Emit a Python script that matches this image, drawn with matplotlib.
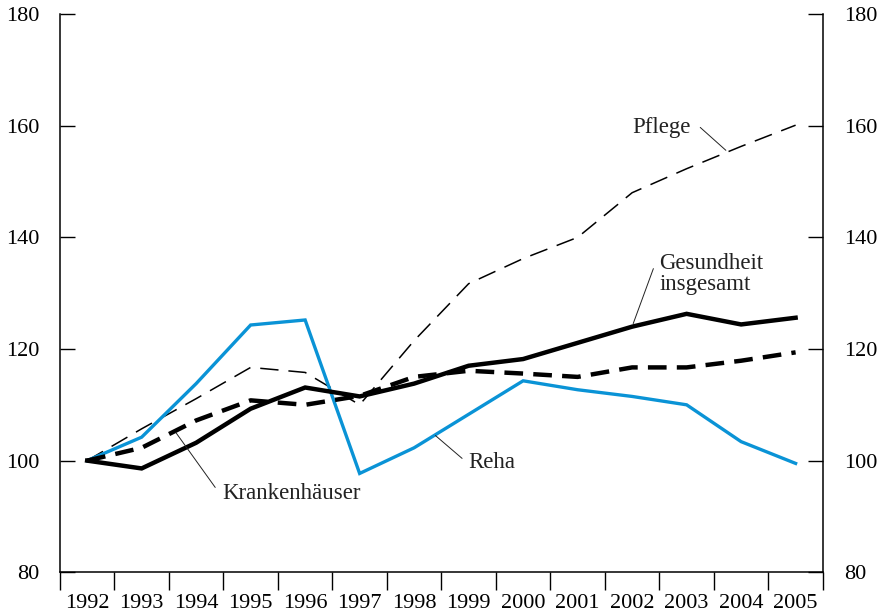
import matplotlib
matplotlib.use('Agg')
import matplotlib.pyplot as plt
import numpy as np

plt.rcParams['font.family'] = 'Liberation Serif'

years = list(range(1992, 2006))
reha = [100, 104.2, 113.8, 124.3, 125.2, 97.7, 102.3, 108.3, 114.3, 112.7, 111.5, 110.0, 103.4, 99.5]
gesundheit = [100, 98.6, 103.2, 109.3, 113.1, 111.5, 113.8, 117.0, 118.2, 121.1, 124.0, 126.3, 124.4, 125.6]
krankenhaus = [100, 102.3, 107.2, 110.8, 110.0, 111.6, 115.0, 116.1, 115.6, 115.0, 116.7, 116.7, 117.9, 119.4]
pflege = [100, 105.7, 111.1, 116.7, 115.8, 110.0, 121.5, 131.7, 136.2, 140.0, 148.0, 152.3, 156.3, 160.1]

# series labels: text (x, y), leader line from -> to
labels = {
    'Pflege': ((2002.0, 159.7), (2003.25, 159.7), (2003.72, 155.6)),
    'Gesundheit\ninsgesamt': ((2002.5, 133.4), (2002.39, 134.4), (2002.02, 124.55)),
    'Reha': ((1998.99, 99.6), (1998.88, 100.4), (1998.39, 104.5)),
    'Krankenhäuser': ((1994.48, 94.1), (1994.35, 95.2), (1993.63, 105.0)),
}

fig = plt.figure(figsize=(8.81, 6.14), dpi=100)
ax = fig.add_axes([0.068, 0.068, 0.866, 0.909])

blue = '#0a93d6'
ax.plot(years, pflege, color='black', lw=1.1, dashes=(12, 6.5))
ax.plot(years, reha, color=blue, lw=2.4, solid_joinstyle='miter')
ax.plot(years, krankenhaus, color='black', lw=3.2, dashes=(4.2, 2.3))
ax.plot(years, gesundheit, color='black', lw=3.2, solid_joinstyle='miter')

ax.set_xlim(1991.5, 2005.5)
ax.set_ylim(80, 180)

# x axis: ticks on the boundaries, labels in the middle
ax.set_xticks(np.arange(1991.5, 2006, 1))
ax.set_xticklabels([])
ax.set_xticks(years, minor=True)
ax.set_xticklabels([str(y) for y in years], minor=True, fontsize=16)
ax.tick_params(axis='x', which='major', direction='out', length=13, width=1)
ax.tick_params(axis='x', which='minor', length=0, pad=16)

ax.set_yticks([80, 100, 120, 140, 160, 180])
ax.tick_params(axis='y', direction='in', length=11, width=1, labelsize=16,
               right=True, labelright=True, pad=15)

ax.spines['top'].set_visible(False)
for s in ['left', 'right', 'bottom']:
    ax.spines[s].set_linewidth(1.1)

for txt, (pos, start, end) in labels.items():
    ax.text(pos[0], pos[1], txt, fontsize=16.5, color='#222222',
            ha='left', va='center', linespacing=1.0)
    ax.annotate('', xy=end, xytext=start,
                arrowprops=dict(arrowstyle='-', lw=0.7, color='#222222', shrinkA=0, shrinkB=0))

fig.savefig('out.png', dpi=100)
